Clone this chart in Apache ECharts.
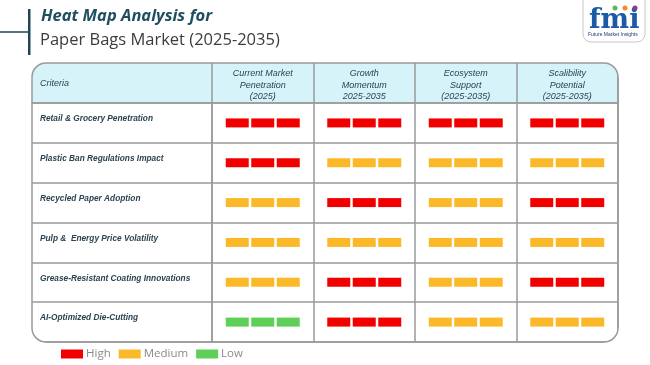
<!DOCTYPE html>
<html>
<head>
<meta charset="utf-8">
<script src="https://cdn.jsdelivr.net/npm/echarts@6/dist/echarts.min.js"></script>
<style>html,body{margin:0;padding:0;background:#fff}#c{width:650px;height:365px}</style>
</head>
<body>
<div id="c"></div>
<script>
// ---- data ----
const criteria = [
  'Retail & Grocery Penetration',
  'Plastic Ban Regulations Impact',
  'Recycled Paper Adoption',
  'Pulp &  Energy Price Volatility',
  'Grease-Resistant Coating Innovations',
  'AI-Optimized Die-Cutting'
];
const columns = [
  'Current Market\nPenetration\n(2025)',
  'Growth\nMomentum\n2025-2035',
  'Ecosystem\nSupport\n(2025-2035)',
  'Scalibility\nPotential\n(2025-2035)'
];
const levels = ['High', 'Medium', 'Low'];
const levelColors = ['#f20000', '#fbb829', '#5ecf57'];
// rating per criterion (rows) per column
const ratings = [
  ['High', 'High', 'High', 'High'],
  ['High', 'Medium', 'Medium', 'Medium'],
  ['Medium', 'High', 'Medium', 'High'],
  ['Medium', 'Medium', 'Medium', 'Medium'],
  ['Medium', 'High', 'Medium', 'High'],
  ['Low', 'High', 'Medium', 'Medium']
];

const chart = echarts.init(document.getElementById('c'), null, {renderer: 'canvas'});
const lineCol = '#9a9a9a';
const txtCol = '#2c4350';
const labelFont = '"Liberation Sans", sans-serif';

function renderCells(params, api) {
  const c = api.coord([api.value(0), api.value(1)]);
  const w = 23, h = 9, g = 2.5;
  const total = 3 * w + 2 * g;
  const children = [];
  for (let i = 0; i < 3; i++) {
    children.push({
      type: 'rect',
      shape: {x: c[0] - total / 2 + i * (w + g), y: c[1] - h / 2, width: w, height: h},
      style: {fill: api.visual('color')}
    });
  }
  return {type: 'group', children};
}

const series = levels.map((lv, k) => {
  const data = [];
  ratings.forEach((row, r) => row.forEach((v, ci) => { if (v === lv) data.push([ci, r]); }));
  return {
    name: lv, type: 'custom', xAxisIndex: 1, yAxisIndex: 1,
    itemStyle: {color: levelColors[k]},
    renderItem: renderCells, data
  };
});

// corner masks (layout decoration for the rounded table frame)
const L = 32, T = 63, R = 618, B = 342, RAD = 14;
function cornerMask(cx, cy, sx, sy) {
  const pts = [];
  const ox = cx + sx * (RAD + 3), oy = cy + sy * (RAD + 3);
  pts.push([ox, cy]);
  for (let i = 0; i <= 12; i++) {
    const a = (Math.PI / 2) * i / 12;
    pts.push([cx + sx * RAD * Math.cos(a), cy + sy * RAD * Math.sin(a)]);
  }
  pts.push([cx, oy]);
  pts.push([ox, oy]);
  return {type: 'polygon', z: 40, shape: {points: pts}, style: {fill: '#fff'}};
}

const option = {
  animation: false,
  grid: [
    {left: 32, top: 103, width: 180, height: 239},
    {left: 212, top: 103, width: 406, height: 239}
  ],
  xAxis: [
    {gridIndex: 0, type: 'value', position: 'top', min: 0, max: 1,
     axisLine: {show: true, lineStyle: {color: lineCol, width: 1.5}},
     axisTick: {show: false}, axisLabel: {show: false}, splitLine: {show: false}},
    {gridIndex: 1, type: 'category', position: 'top', data: columns,
     axisLine: {show: true, lineStyle: {color: lineCol, width: 1.5}},
     axisTick: {show: true, length: 40, lineStyle: {color: lineCol, width: 1.5}},
     splitLine: {show: true, lineStyle: {color: lineCol, width: 1.5}},
     axisLabel: {margin: 18, verticalAlign: 'middle', lineHeight: 11.5, fontSize: 9,
       fontStyle: 'italic', fontFamily: labelFont, color: txtCol, interval: 0}}
  ],
  yAxis: [
    {gridIndex: 0, type: 'category', inverse: true, data: criteria,
     axisLine: {show: false}, axisTick: {show: false},
     splitLine: {show: true, lineStyle: {color: lineCol, width: 1.5}},
     axisLabel: {inside: true, margin: 8, fontSize: 8.3, fontWeight: 'bold', fontStyle: 'italic',
       fontFamily: labelFont, color: txtCol, verticalAlign: 'bottom', lineHeight: 8, interval: 0}},
    {gridIndex: 1, type: 'category', inverse: true, data: criteria,
     axisLine: {show: true, lineStyle: {color: lineCol, width: 1.5}}, axisTick: {show: false},
     splitLine: {show: true, lineStyle: {color: lineCol, width: 1.5}},
     axisLabel: {show: false}}
  ],
  legend: {
    left: 56, top: 343, itemWidth: 22, itemHeight: 9, itemGap: 8, icon: 'rect',
    data: levels,
    textStyle: {color: '#8a8a8a', fontSize: 11.5, fontFamily: '"Open Sans", sans-serif', padding: [0, 0, 0, -2]}
  },
  graphic: [
    {type: 'rect', z: -10, shape: {x: L, y: T, width: R - L, height: 40, r: [RAD, RAD, 0, 0]},
     style: {fill: '#d5f3f8'}},
    cornerMask(L + RAD, T + RAD, -1, -1),
    cornerMask(R - RAD, T + RAD, 1, -1),
    cornerMask(L + RAD, B - RAD, -1, 1),
    cornerMask(R - RAD, B - RAD, 1, 1),
    {type: 'rect', z: 50, shape: {x: L, y: T, width: R - L, height: B - T, r: RAD},
     style: {fill: 'none', stroke: lineCol, lineWidth: 1.5}},
    {type: 'text', left: 40, top: 79, style: {text: 'Criteria', fontSize: 9, fontStyle: 'italic',
      fontFamily: labelFont, fill: txtCol}},
    {type: 'line', shape: {x1: 0, y1: 32, x2: 29, y2: 32}, style: {stroke: '#1d4656', lineWidth: 1.5}},
    {type: 'rect', shape: {x: 28, y: 9, width: 2.5, height: 46}, style: {fill: '#1d4656'}},
    {type: 'text', left: 41, top: 8, style: {text: 'Heat Map Analysis for', fontSize: 16.5, fontWeight: 'bold',
      fontStyle: 'italic', fontFamily: '"Open Sans", sans-serif', fill: '#1f4e5f'}},
    {type: 'text', left: 40, top: 32, style: {text: 'Paper Bags Market (2025-2035)', fontSize: 16.5,
      fontFamily: '"Open Sans", sans-serif', fill: '#3c3c3c'}},
    {type: 'rect', shape: {x: 583, y: -8, width: 62, height: 50, r: 8},
     style: {fill: '#fff', stroke: '#c8c8c8', lineWidth: 1}},
    {type: 'text', left: 589, top: 7, style: {text: 'fmi', fontSize: 27, fontWeight: 'bold',
      fontFamily: '"DejaVu Serif", serif', fill: '#1c5aa6'}},
    {type: 'circle', shape: {cx: 615, cy: 8, r: 2.5}, style: {fill: '#5cb848'}},
    {type: 'circle', shape: {cx: 625, cy: 8, r: 2.5}, style: {fill: '#f28a2e'}},
    {type: 'circle', shape: {cx: 635, cy: 8, r: 2.5}, style: {fill: '#8b3a8f'}},
    {type: 'text', left: 588, top: 32, style: {text: 'Future Market Insights', fontSize: 5,
      fontFamily: '"Liberation Sans", sans-serif', fill: '#1c3e6e'}}
  ],
  series
};
chart.setOption(option);
</script>
</body>
</html>
